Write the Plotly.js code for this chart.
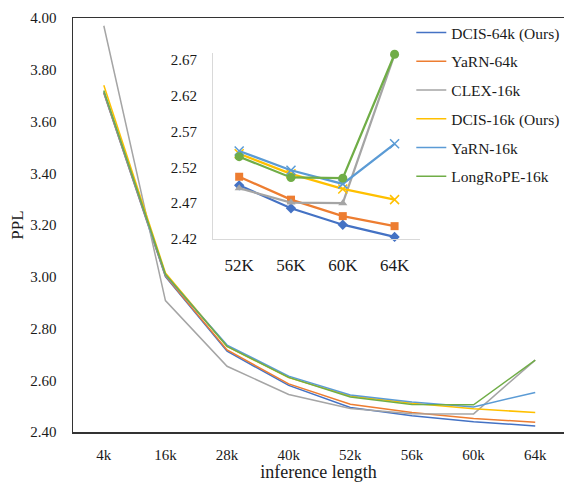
<!DOCTYPE html>
<html>
<head>
<meta charset="utf-8">
<script src="https://cdn.plot.ly/plotly-3.0.1.min.js"></script>
<style>html,body{margin:0;padding:0;background:#fff;}#chart{width:564px;height:482px;}</style>
</head>
<body>
<div id="chart"></div>
<script>
const lengths = ["4k","16k","28k","40k","52k","56k","60k","64k"];
const insetLabels = ["52K","56K","60K","64K"];
const seriesNames = ["DCIS-64k (Ours)","YaRN-64k","CLEX-16k","DCIS-16k (Ours)","YaRN-16k","LongRoPE-16k"];
const dcis64 = [3.710, 3.000, 2.712, 2.580, 2.495, 2.463, 2.440, 2.423];
const yarn64 = [3.712, 3.003, 2.717, 2.586, 2.507, 2.475, 2.452, 2.438];
const clex16 = [3.970, 2.908, 2.654, 2.545, 2.491, 2.471, 2.470, 2.678];
const dcis16 = [3.740, 3.015, 2.731, 2.610, 2.539, 2.511, 2.490, 2.475];
const yarn16 = [3.716, 3.006, 2.736, 2.616, 2.543, 2.516, 2.497, 2.553];
const longrope16 = [3.720, 3.010, 2.731, 2.611, 2.535, 2.506, 2.505, 2.678];

const allSeries = [dcis64, yarn64, clex16, dcis16, yarn16, longrope16];
const colors = ["#4472C4","#ED7D31","#A5A5A5","#FFC000","#5B9BD5","#70AD47"];
const symbols = ["diamond","square","triangle-up","x-thin-open","x-thin-open","circle"];
const msizes = [8,8,8,9,9,9];

const traces = [];
allSeries.forEach((s,i)=>{
  traces.push({
    x: lengths, y: s, type:'scatter', mode:'lines', name: seriesNames[i],
    line:{color:colors[i], width:1.5}, legendgroup:'g'+i,
    xaxis:'x', yaxis:'y', hoverinfo:'skip'
  });
});
allSeries.forEach((s,i)=>{
  traces.push({
    x: insetLabels, y: s.slice(4), type:'scatter', mode:'lines+markers', showlegend:false,
    line:{color:colors[i], width:2.25},
    marker:{symbol:symbols[i], size:msizes[i], color:colors[i], line:{color:colors[i], width: symbols[i].startsWith('x') ? 1.5 : 0}},
    xaxis:'x2', yaxis:'y2', hoverinfo:'skip', cliponaxis:false
  });
});

const fam = 'Liberation Serif, Times New Roman, serif';
const font = {family:fam, size:15, color:'#1a1a1a'};
const layout = {
  width:564, height:482,
  margin:{l:73, r:0, t:18, b:49.5, autoexpand:false},
  paper_bgcolor:'#fff', plot_bgcolor:'rgba(0,0,0,0)',
  font: font,
  showlegend:true,
  legend:{x:0.689, y:1.005, xanchor:'left', yanchor:'top', bgcolor:'rgba(0,0,0,0)', itemwidth:30,
    font:{family:fam, size:15.5, color:'#1a1a1a'}, traceorder:'grouped', tracegroupgap:5.6},
  xaxis:{type:'category', range:[-0.5, 7.467], showgrid:false, zeroline:false,
    showline:true, mirror:true, linecolor:'#333', linewidth:1.5, ticks:'',
    ticklabelstandoff:8, tickfont:font,
    title:{text:'inference length', font:{family:fam, size:18, color:'#1a1a1a'}, standoff:2}},
  yaxis:{range:[2.4, 4.0], dtick:0.2, tick0:2.4, tickformat:'.2f', showgrid:false, zeroline:false,
    showline:true, mirror:true, linecolor:'#333', linewidth:1.5, ticks:'',
    ticklabelstandoff:12, tickfont:font,
    title:{text:'PPL', font:{family:fam, size:17, color:'#1a1a1a'}, standoff:2}},
  xaxis2:{type:'category', domain:[0.2857, 0.7077], anchor:'y2', range:[-0.5,3.5],
    showgrid:false, zeroline:false, showline:true, linecolor:'#D9D9D9', linewidth:1.25, ticks:'',
    ticklabelstandoff:10, tickfont:{family:fam, size:17, color:'#1a1a1a'}},
  yaxis2:{domain:[0.4661, 0.9158], anchor:'x2', range:[2.42, 2.68], tick0:2.42, dtick:0.05,
    tickformat:'.2f', showgrid:false, zeroline:false, showline:true, linecolor:'#D9D9D9', linewidth:1.25,
    ticks:'', ticklabelstandoff:12, tickfont:font}
};
Plotly.newPlot('chart', traces, layout, {staticPlot:true, displayModeBar:false});
</script>
</body>
</html>
